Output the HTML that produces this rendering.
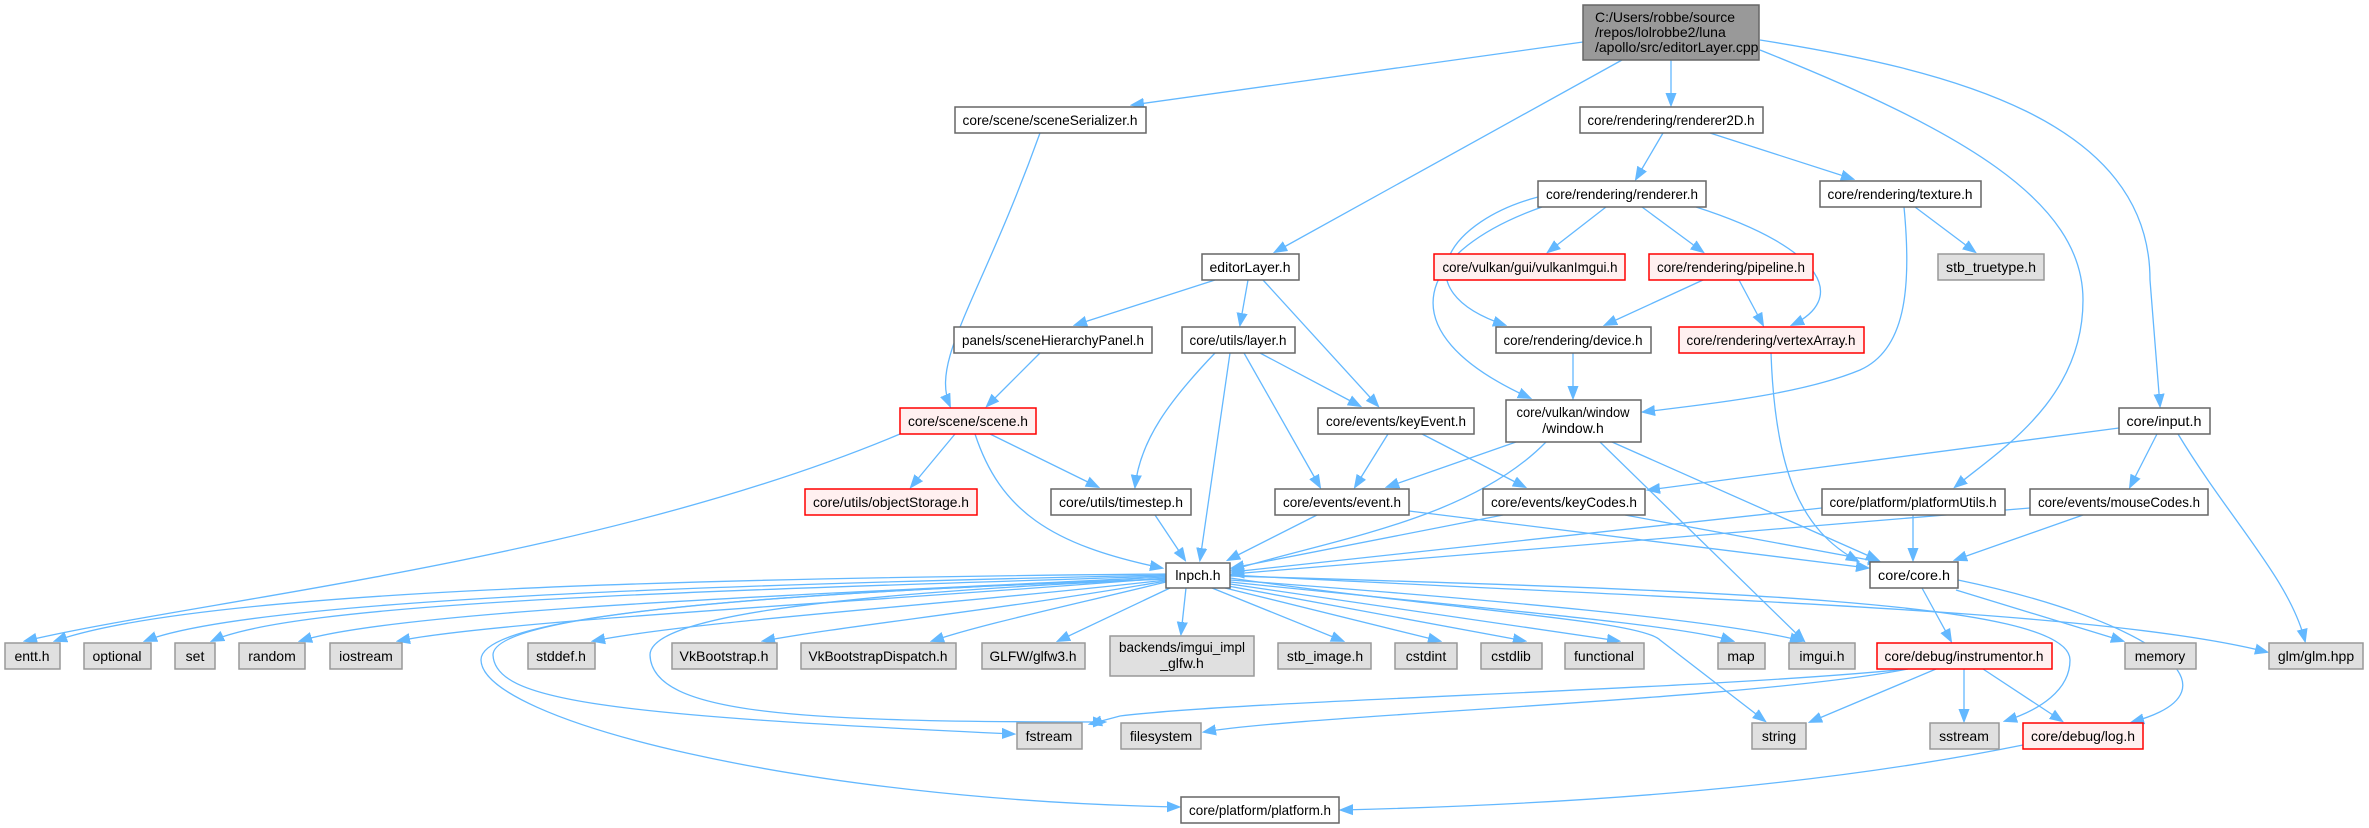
<!DOCTYPE html>
<html><head><meta charset="utf-8"><style>
html,body{margin:0;padding:0;background:#fff;}
svg{display:block;}
text{font-family:"Liberation Sans",Arial,sans-serif;font-size:14px;fill:#000;}
.e{fill:none;stroke:#63b8ff;stroke-width:1.3;marker-end:url(#a);}
.w{fill:#fff;stroke:#666;stroke-width:1.5;}
.g{fill:#e0e0e0;stroke:#999;stroke-width:1.5;}
.r{fill:#fff0f0;stroke:#f00;stroke-width:1.5;}
.root{fill:#999;stroke:#666;stroke-width:1.5;}
</style></head><body>
<svg width="2369" height="828" viewBox="0 0 2369 828" xmlns="http://www.w3.org/2000/svg">
<defs><marker id="a" markerUnits="userSpaceOnUse" markerWidth="14" markerHeight="12" refX="12" refY="6" orient="auto"><path d="M0,1 L13,6 L0,11 Z" fill="#63b8ff" stroke="#63b8ff"/></marker></defs>

<!-- edges -->
<path class="e" d="M1583,42 L1132,105"/>
<path class="e" d="M1622,60 L1275,252"/>
<path class="e" d="M1671,60 L1671,105"/>
<path class="e" d="M1760,50 C1960,130 2083,200 2083,300 C2083,400 2000,450 1955,487"/>
<path class="e" d="M1760,40 C1950,70 2150,120 2150,280 L2160,406"/>
<path class="e" d="M1663,133 L1636,179"/>
<path class="e" d="M1710,133 L1853,179"/>
<path class="e" d="M1606,207 L1548,252"/>
<path class="e" d="M1642,207 L1703,252"/>
<path class="e" d="M1696,207 C1830,250 1845,300 1792,325"/>
<path class="e" d="M1538,197 C1450,220 1400,290 1505,325"/>
<path class="e" d="M1542,207 C1420,250 1380,330 1530,398"/>
<path class="e" d="M1904,207 C1912,290 1905,350 1860,370 C1800,395 1700,405 1643,412"/>
<path class="e" d="M1915,207 L1975,252"/>
<path class="e" d="M1703,280 L1605,325"/>
<path class="e" d="M1739,280 L1763,325"/>
<path class="e" d="M1573,353 L1573,398"/>
<path class="e" d="M1771,353 C1775,470 1800,530 1858,561"/>
<path class="e" d="M1215,280 L1075,325"/>
<path class="e" d="M1248,280 L1240,325"/>
<path class="e" d="M1263,280 L1378,406"/>
<path class="e" d="M1040,133 C980,300 930,360 950,406"/>
<path class="e" d="M1040,353 L987,406"/>
<path class="e" d="M1215,353 C1170,400 1140,440 1135,487"/>
<path class="e" d="M1230,353 L1200,560"/>
<path class="e" d="M1244,353 L1320,487"/>
<path class="e" d="M1260,353 L1360,406"/>
<path class="e" d="M955,434 L911,487"/>
<path class="e" d="M990,434 L1098,487"/>
<path class="e" d="M975,434 C1000,510 1050,545 1162,568"/>
<path class="e" d="M900,434 C600,560 200,600 25,641"/>
<path class="e" d="M1388,434 L1355,487"/>
<path class="e" d="M1422,434 L1525,487"/>
<path class="e" d="M1516,442 L1387,487"/>
<path class="e" d="M1546,442 C1470,520 1330,540 1232,570"/>
<path class="e" d="M1600,442 L1804,641"/>
<path class="e" d="M1612,442 L1878,560"/>
<path class="e" d="M2119,428 L1648,490"/>
<path class="e" d="M2157,434 L2130,487"/>
<path class="e" d="M2178,434 C2230,520 2290,580 2305,641"/>
<path class="e" d="M1155,515 L1185,560"/>
<path class="e" d="M1317,515 L1228,560"/>
<path class="e" d="M1409,511 L1868,568"/>
<path class="e" d="M1503,515 L1232,568"/>
<path class="e" d="M1625,515 L1880,562"/>
<path class="e" d="M1822,508 L1232,572"/>
<path class="e" d="M1913,515 L1913,560"/>
<path class="e" d="M2030,508 L1232,574"/>
<path class="e" d="M2083,515 L1955,560"/>
<path class="e" d="M1922,588 L1951,641"/>
<path class="e" d="M1956,590 L2123,641"/>
<path class="e" d="M1958,580 C2150,620 2250,690 2132,722"/>
<path class="e" d="M1936,669 L1810,722"/>
<path class="e" d="M1964,669 L1964,721"/>
<path class="e" d="M1983,669 L2062,721"/>
<path class="e" d="M1908,669 C1750,700 1300,715 1204,732"/>
<path class="e" d="M1908,669 C1700,690 1250,700 1120,716 L1090,724"/>
<path class="e" d="M2023,745 C1800,790 1550,805 1341,810"/>
<!-- lnpch fan -->
<path class="e" d="M1166,574 C700,578 200,590 55,641"/>
<path class="e" d="M1166,575 C700,585 250,600 145,641"/>
<path class="e" d="M1166,576 C750,590 300,600 212,641"/>
<path class="e" d="M1166,577 C800,595 400,610 300,641"/>
<path class="e" d="M1166,578 C900,600 500,620 398,641"/>
<path class="e" d="M1166,580 C950,605 700,620 593,641"/>
<path class="e" d="M1166,581 C1000,610 850,625 763,641"/>
<path class="e" d="M1166,582 C1050,610 980,625 932,641"/>
<path class="e" d="M1170,588 L1058,641"/>
<path class="e" d="M1186,588 L1181,634"/>
<path class="e" d="M1212,588 L1343,641"/>
<path class="e" d="M1225,588 L1440,641"/>
<path class="e" d="M1228,586 L1525,641"/>
<path class="e" d="M1230,584 L1619,641"/>
<path class="e" d="M1230,582 C1500,610 1680,625 1733,641"/>
<path class="e" d="M1230,580 C1500,600 1720,620 1802,641"/>
<path class="e" d="M1230,578 C1450,610 1640,620 1660,640 L1765,721"/>
<path class="e" d="M1230,576 C1700,590 2070,600 2070,660 C2070,690 2040,710 2005,721"/>
<path class="e" d="M1230,575 C1700,600 2100,610 2267,652"/>
<path class="e" d="M1166,579 C700,595 493,620 493,655 C495,700 600,715 1014,734"/>
<path class="e" d="M1166,579 C800,595 650,620 650,655 C652,715 800,722 1105,722"/>
<path class="e" d="M1166,579 C700,595 480,620 481,660 C482,720 800,800 1179,807"/>

<!-- nodes -->
<rect class="root" x="1583" y="5" width="176" height="55"/>
<text x="1595" y="22">C:/Users/robbe/source</text>
<text x="1595" y="37">/repos/lolrobbe2/luna</text>
<text x="1595" y="52">/apollo/src/editorLayer.cpp</text>

<g text-anchor="middle">
<rect class="w" x="955" y="107" width="191" height="26"/><text x="1050" y="125" textLength="175" lengthAdjust="spacingAndGlyphs">core/scene/sceneSerializer.h</text>
<rect class="w" x="1580" y="107" width="183" height="26"/><text x="1671" y="125" textLength="167" lengthAdjust="spacingAndGlyphs">core/rendering/renderer2D.h</text>
<rect class="w" x="1538" y="181" width="168" height="26"/><text x="1622" y="199" textLength="152" lengthAdjust="spacingAndGlyphs">core/rendering/renderer.h</text>
<rect class="w" x="1820" y="181" width="161" height="26"/><text x="1900" y="199" textLength="145" lengthAdjust="spacingAndGlyphs">core/rendering/texture.h</text>
<rect class="w" x="1202" y="254" width="97" height="26"/><text x="1250" y="272" textLength="81" lengthAdjust="spacingAndGlyphs">editorLayer.h</text>
<rect class="r" x="1434" y="254" width="191" height="26"/><text x="1530" y="272" textLength="175" lengthAdjust="spacingAndGlyphs">core/vulkan/gui/vulkanImgui.h</text>
<rect class="r" x="1649" y="254" width="164" height="26"/><text x="1731" y="272" textLength="148" lengthAdjust="spacingAndGlyphs">core/rendering/pipeline.h</text>
<rect class="g" x="1938" y="254" width="106" height="26"/><text x="1991" y="272" textLength="90" lengthAdjust="spacingAndGlyphs">stb_truetype.h</text>
<rect class="w" x="954" y="327" width="198" height="26"/><text x="1053" y="345" textLength="182" lengthAdjust="spacingAndGlyphs">panels/sceneHierarchyPanel.h</text>
<rect class="w" x="1182" y="327" width="113" height="26"/><text x="1238" y="345" textLength="97" lengthAdjust="spacingAndGlyphs">core/utils/layer.h</text>
<rect class="w" x="1496" y="327" width="155" height="26"/><text x="1573" y="345" textLength="139" lengthAdjust="spacingAndGlyphs">core/rendering/device.h</text>
<rect class="r" x="1679" y="327" width="185" height="26"/><text x="1771" y="345" textLength="169" lengthAdjust="spacingAndGlyphs">core/rendering/vertexArray.h</text>
<rect class="r" x="900" y="408" width="136" height="26"/><text x="968" y="426" textLength="120" lengthAdjust="spacingAndGlyphs">core/scene/scene.h</text>
<rect class="w" x="1506" y="400" width="135" height="42"/><text x="1573" y="417" textLength="113" lengthAdjust="spacingAndGlyphs">core/vulkan/window</text><text x="1573" y="433">/window.h</text>
<rect class="w" x="1318" y="408" width="156" height="26"/><text x="1396" y="426" textLength="140" lengthAdjust="spacingAndGlyphs">core/events/keyEvent.h</text>
<rect class="w" x="2119" y="408" width="91" height="26"/><text x="2164" y="426" textLength="75" lengthAdjust="spacingAndGlyphs">core/input.h</text>
<rect class="r" x="805" y="489" width="172" height="26"/><text x="891" y="507" textLength="156" lengthAdjust="spacingAndGlyphs">core/utils/objectStorage.h</text>
<rect class="w" x="1051" y="489" width="140" height="26"/><text x="1121" y="507" textLength="124" lengthAdjust="spacingAndGlyphs">core/utils/timestep.h</text>
<rect class="w" x="1275" y="489" width="134" height="26"/><text x="1342" y="507" textLength="118" lengthAdjust="spacingAndGlyphs">core/events/event.h</text>
<rect class="w" x="1483" y="489" width="162" height="26"/><text x="1564" y="507" textLength="146" lengthAdjust="spacingAndGlyphs">core/events/keyCodes.h</text>
<rect class="w" x="1822" y="489" width="183" height="26"/><text x="1913" y="507" textLength="167" lengthAdjust="spacingAndGlyphs">core/platform/platformUtils.h</text>
<rect class="w" x="2030" y="489" width="178" height="26"/><text x="2119" y="507" textLength="162" lengthAdjust="spacingAndGlyphs">core/events/mouseCodes.h</text>
<rect class="w" x="1166" y="563" width="64" height="25"/><text x="1198" y="580">lnpch.h</text>
<rect class="w" x="1870" y="562" width="88" height="26"/><text x="1914" y="580" textLength="72" lengthAdjust="spacingAndGlyphs">core/core.h</text>

<rect class="g" x="5" y="643" width="55" height="26"/><text x="32" y="661">entt.h</text>
<rect class="g" x="84" y="643" width="67" height="26"/><text x="117" y="661">optional</text>
<rect class="g" x="175" y="643" width="40" height="26"/><text x="195" y="661">set</text>
<rect class="g" x="239" y="643" width="66" height="26"/><text x="272" y="661">random</text>
<rect class="g" x="330" y="643" width="72" height="26"/><text x="366" y="661">iostream</text>
<rect class="g" x="528" y="643" width="67" height="26"/><text x="561" y="661">stddef.h</text>
<rect class="g" x="672" y="643" width="105" height="26"/><text x="724" y="661" textLength="89" lengthAdjust="spacingAndGlyphs">VkBootstrap.h</text>
<rect class="g" x="801" y="643" width="155" height="26"/><text x="878" y="661" textLength="139" lengthAdjust="spacingAndGlyphs">VkBootstrapDispatch.h</text>
<rect class="g" x="982" y="643" width="103" height="26"/><text x="1033" y="661" textLength="87" lengthAdjust="spacingAndGlyphs">GLFW/glfw3.h</text>
<rect class="g" x="1110" y="636" width="144" height="40"/><text x="1182" y="652" textLength="126" lengthAdjust="spacingAndGlyphs">backends/imgui_impl</text><text x="1182" y="668">_glfw.h</text>
<rect class="g" x="1278" y="643" width="93" height="26"/><text x="1325" y="661">stb_image.h</text>
<rect class="g" x="1395" y="643" width="62" height="26"/><text x="1426" y="661">cstdint</text>
<rect class="g" x="1481" y="643" width="61" height="26"/><text x="1511" y="661">cstdlib</text>
<rect class="g" x="1565" y="643" width="79" height="26"/><text x="1604" y="661">functional</text>
<rect class="g" x="1718" y="643" width="47" height="26"/><text x="1741" y="661">map</text>
<rect class="g" x="1789" y="643" width="66" height="26"/><text x="1822" y="661">imgui.h</text>
<rect class="r" x="1877" y="643" width="175" height="26"/><text x="1964" y="661" textLength="159" lengthAdjust="spacingAndGlyphs">core/debug/instrumentor.h</text>
<rect class="g" x="2125" y="643" width="71" height="26"/><text x="2160" y="661">memory</text>
<rect class="g" x="2269" y="643" width="94" height="26"/><text x="2316" y="661">glm/glm.hpp</text>
<rect class="g" x="1017" y="723" width="65" height="26"/><text x="1049" y="741">fstream</text>
<rect class="g" x="1121" y="723" width="80" height="26"/><text x="1161" y="741">filesystem</text>
<rect class="g" x="1752" y="723" width="54" height="26"/><text x="1779" y="741">string</text>
<rect class="g" x="1930" y="723" width="69" height="26"/><text x="1964" y="741">sstream</text>
<rect class="r" x="2023" y="723" width="120" height="26"/><text x="2083" y="741" textLength="104" lengthAdjust="spacingAndGlyphs">core/debug/log.h</text>
<rect class="w" x="1181" y="797" width="158" height="26"/><text x="1260" y="815" textLength="142" lengthAdjust="spacingAndGlyphs">core/platform/platform.h</text>
</g>
</svg>
</body></html>
